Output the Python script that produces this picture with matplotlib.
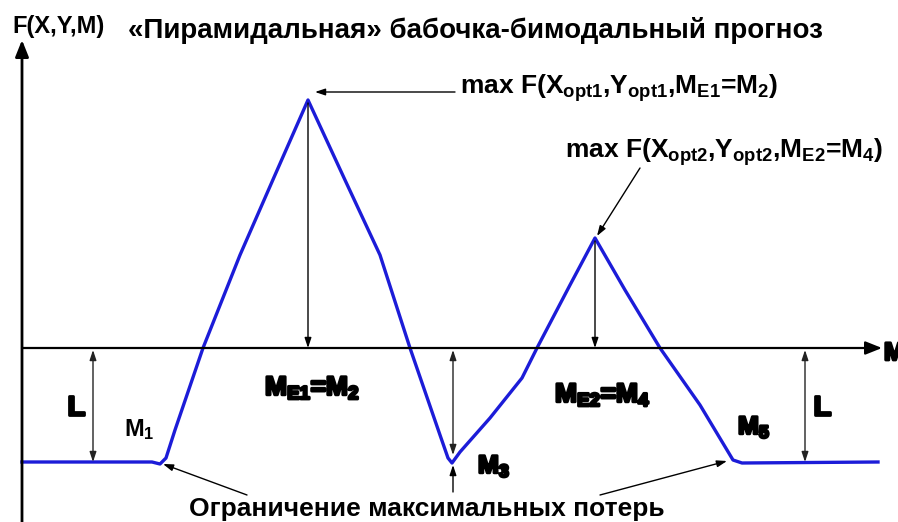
import numpy as np
import matplotlib.pyplot as plt
import matplotlib.patheffects as pe

plt.rcParams['font.family'] = ['Liberation Sans', 'DejaVu Sans']
plt.rcParams['mathtext.fontset'] = 'custom'
plt.rcParams['mathtext.rm'] = 'Liberation Sans:bold'
plt.rcParams['mathtext.bf'] = 'Liberation Sans:bold'
plt.rcParams['mathtext.it'] = 'Liberation Sans:bold'

# curve: M position (x) and F value (axis at F=0)
m_vals = [0.22, 1.52, 1.60, 1.66, 1.75, 2.03, 2.40, 2.75, 3.08, 3.45, 3.80,
          4.10, 4.40, 4.48, 4.52, 4.60, 4.90, 5.22, 5.37, 5.70, 5.95, 6.25,
          6.60, 7.00, 7.33, 7.42, 8.78]
f_vals = [-1.14, -1.14, -1.16, -1.10, -0.82, 0.0, 0.93, 1.73, 2.48, 1.68, 0.93,
          0.0, -0.87, -1.10, -1.15, -1.04, -0.70, -0.30, 0.0, 0.63, 1.10, 0.58,
          0.0, -0.57, -1.12, -1.15, -1.14]

m_peak1, f_peak1 = 3.08, 2.48
m_min3, f_min3 = 4.53, -1.15
m_peak2, f_peak2 = 5.95, 1.10
f_floor = -1.14
l_left, l_right = 0.93, 8.05

fig = plt.figure(figsize=(8.98, 5.22), dpi=100)
ax = fig.add_axes([0, 0, 1, 1])
ax.set_xlim(0, 8.98)
ax.set_ylim(-1.74, 3.48)
ax.axis('off')

# axes with arrows
ax.annotate('', xy=(0.22, 3.08), xytext=(0.22, -1.74),
            arrowprops=dict(arrowstyle='-|>,head_length=1.0,head_width=0.4',
                            lw=2, color='black', shrinkA=0, shrinkB=0))
ax.annotate('', xy=(8.82, 0), xytext=(0.22, 0),
            arrowprops=dict(arrowstyle='-|>,head_length=1.0,head_width=0.4',
                            lw=1.6, color='black', shrinkA=0, shrinkB=0))

ax.plot(m_vals, f_vals, color='#1c1cd8', lw=2.4, solid_joinstyle='round')

thin = dict(arrowstyle='-|>,head_length=0.6,head_width=0.2', lw=1,
            color='black', shrinkA=0, shrinkB=0)
both = dict(arrowstyle='<|-|>,head_length=0.6,head_width=0.2', lw=1,
            color='#222222', shrinkA=0, shrinkB=0)

# vertical drop arrows from peaks
ax.annotate('', xy=(m_peak1, 0), xytext=(m_peak1, f_peak1 - 0.03), arrowprops=thin)
ax.annotate('', xy=(m_peak2, 0), xytext=(m_peak2, f_peak2 - 0.03), arrowprops=thin)
# L arrows
ax.annotate('', xy=(l_left, f_floor), xytext=(l_left, -0.02), arrowprops=both)
ax.annotate('', xy=(l_right, f_floor), xytext=(l_right, -0.02), arrowprops=both)
ax.annotate('', xy=(m_min3, f_min3 + 0.08), xytext=(m_min3, -0.02), arrowprops=both)
ax.annotate('', xy=(m_min3, f_min3 - 0.02), xytext=(m_min3, -1.44), arrowprops=thin)

# pointers to maxima
ax.annotate('', xy=(m_peak1 + 0.07, 2.56), xytext=(4.55, 2.56), arrowprops=thin)
ax.annotate('', xy=(m_peak2 + 0.02, f_peak2 + 0.02), xytext=(6.40, 1.80), arrowprops=thin)
# pointers to loss limit
ax.annotate('', xy=(1.63, -1.16), xytext=(2.47, -1.47), arrowprops=thin)
ax.annotate('', xy=(7.27, -1.13), xytext=(6.00, -1.47), arrowprops=thin)

bold = dict(fontweight='bold', color='black')
ax.text(0.12, 3.21, 'F(X,Y,M)', fontsize=17, va='center', ha='left', **bold)
ax.text(1.28, 3.17, '«Пирамидальная» бабочка-бимодальный прогноз', fontsize=20,
        va='center', ha='left', **bold)
ax.text(4.60, 2.60, r'max F(X$_{\rm opt1}$,Y$_{\rm opt1}$,M$_{\rm E1}$=M$_2$)',
        fontsize=19, va='center', ha='left', **bold)
ax.text(5.65, 1.96, r'max F(X$_{\rm opt2}$,Y$_{\rm opt2}$,M$_{\rm E2}$=M$_4$)',
        fontsize=19, va='center', ha='left', **bold)
ax.text(4.27, -1.61, 'Ограничение максимальных потерь', fontsize=19,
        va='center', ha='center', **bold)

heavy = [pe.withStroke(linewidth=2, foreground='black')]
ax.text(0.76, -0.60, 'L', fontsize=20, va='center', ha='center', path_effects=heavy, **bold)
ax.text(8.22, -0.60, 'L', fontsize=20, va='center', ha='center', path_effects=heavy, **bold)
ax.text(1.24, -0.82, r'M$_1$', fontsize=17, va='center', ha='left', **bold)
ax.text(2.65, -0.40, r'M$_{\rm E1}$=M$_2$', fontsize=19, va='center', ha='left',
        path_effects=heavy, **bold)
ax.text(5.55, -0.47, r'M$_{\rm E2}$=M$_4$', fontsize=19, va='center', ha='left',
        path_effects=heavy, **bold)
ax.text(4.78, -1.18, r'M$_3$', fontsize=18, va='center', ha='left', path_effects=heavy, **bold)
ax.text(7.38, -0.79, r'M$_5$', fontsize=18, va='center', ha='left', path_effects=heavy, **bold)
ax.text(8.84, -0.05, 'M', fontsize=18, va='center', ha='left', path_effects=heavy, **bold)

fig.savefig('out.png', dpi=100)
